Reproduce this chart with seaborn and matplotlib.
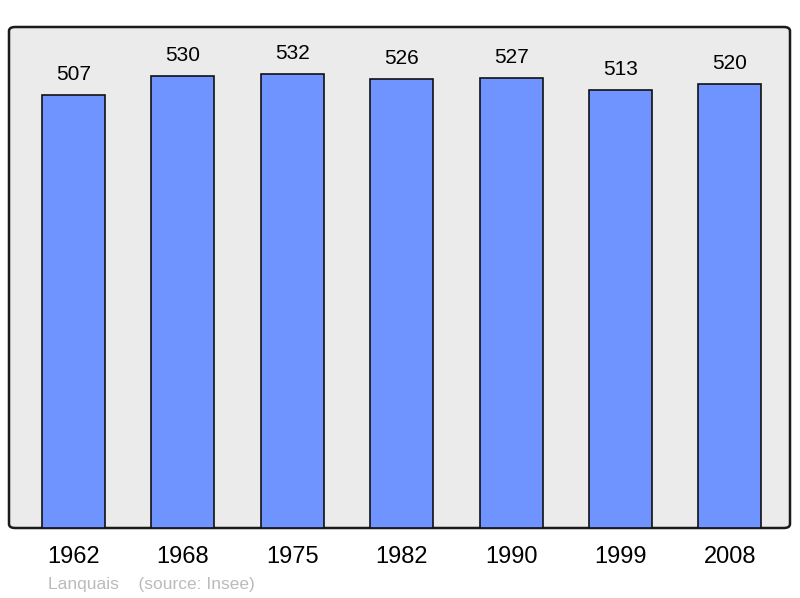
import pandas as pd
import matplotlib.pyplot as plt
import seaborn as sns
from matplotlib.patches import FancyBboxPatch

# Population data
years = ['1962', '1968', '1975', '1982', '1990', '1999', '2008']
population = [507, 530, 532, 526, 527, 513, 520]

df = pd.DataFrame({'year': years, 'pop': population})

sns.set_style('white')
plt.rcParams['font.family'] = ['Liberation Sans', 'DejaVu Sans']

fig = plt.figure(figsize=(8, 5.98), dpi=100)
ax = fig.add_axes([9 / 800, 1 - 528 / 598, 781 / 800, 501 / 598])
ax.set_facecolor('none')

# rounded grey frame
frame = FancyBboxPatch((0, 0), 1, 1, boxstyle='round,pad=0,rounding_size=0.008',
                       transform=ax.transAxes, facecolor='#ebebeb',
                       edgecolor='#1a1a1a', linewidth=1.8, zorder=0, clip_on=False)
ax.add_patch(frame)

sns.barplot(data=df, x='year', y='pop', order=years, color='#7094ff',
            saturation=1, width=0.576, edgecolor='#111111', linewidth=1.2, ax=ax, zorder=2)

for i, v in enumerate(population):
    ax.text(i, v + 13, str(v), ha='center', va='bottom', fontsize=15, color='black')

ax.set_xlim(-0.59, 6.55)
ax.set_ylim(0, 587)
for s in ax.spines.values():
    s.set_visible(False)
ax.set_yticks([])
ax.set_xlabel('')
ax.set_ylabel('')
ax.tick_params(axis='x', length=0, pad=13, labelsize=17, labelcolor='black')

fig.text(48 / 800, 1 - 584 / 598, 'Lanquais    (source: Insee)', color='#bbbbbb',
         fontsize=12.5, ha='left', va='center')

fig.savefig('out.png', dpi=100)
